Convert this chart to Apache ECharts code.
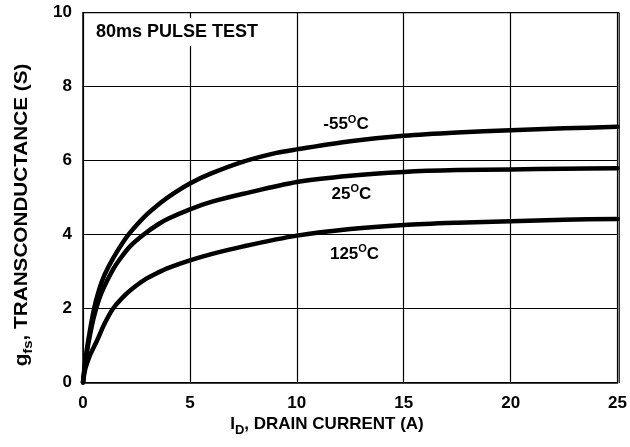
<!DOCTYPE html>
<html>
<head>
<meta charset="utf-8">
<script src="https://cdn.jsdelivr.net/npm/echarts@6/dist/echarts.min.js"></script>
<style>html,body{margin:0;padding:0;background:#fff;}#chart{width:630px;height:447px;}</style>
</head>
<body>
<div id="chart"></div>
<script>
// Drain current (A) vs transconductance (S)
var curveM55 = [[0,0],[0.1,0.55],[0.25,1.15],[0.5,1.95],[0.75,2.5],[1,2.9],[1.4,3.35],[2,3.9],[2.5,4.25],[3,4.55],[3.5,4.8],[4,5.02],[5,5.38],[6,5.65],[7.5,5.97],[9,6.2],[10,6.3],[12.5,6.52],[15,6.67],[17.5,6.76],[20,6.82],[22.5,6.87],[25,6.91]];
var curve25 = [[0,0],[0.1,0.5],[0.25,1.05],[0.5,1.75],[0.75,2.25],[1,2.6],[1.4,3.05],[1.72,3.33],[2.2,3.68],[2.84,4.0],[3.5,4.27],[4,4.43],[5,4.68],[6,4.88],[7.5,5.1],[10,5.42],[12.5,5.59],[15,5.69],[17.5,5.74],[20,5.76],[22.5,5.78],[25,5.79]];
var curve125 = [[0,0],[0.1,0.35],[0.3,0.7],[0.63,1.1],[1,1.58],[1.41,2.0],[2,2.38],[2.5,2.62],[3,2.82],[3.5,2.97],[4,3.1],[5,3.3],[6,3.47],[7.5,3.68],[10,3.97],[12.5,4.15],[15,4.26],[17.5,4.32],[20,4.36],[22.5,4.4],[25,4.42]];
var seriesNames = ['-55', '25', '125'];
var xTicks = [0, 5, 10, 15, 20, 25];
var yTicks = [0, 2, 4, 6, 8, 10];

var FONT = "'Liberation Sans', Arial, sans-serif";
var chart = echarts.init(document.getElementById('chart'), null, {renderer: 'canvas'});

function curveSeries(name, data, coord) {
  return {
    name: name, type: 'line', data: data, showSymbol: false, symbol: 'none',
    smooth: 0.3,
    lineStyle: {color: '#000', width: 4.5, cap: 'round', join: 'round'},
    z: 3,
    markPoint: {
      symbol: 'circle', symbolSize: 0, silent: true,
      data: [{coord: coord, value: name}],
      label: {
        show: true, position: 'inside',
        formatter: '{n|' + name + '}{s|O}{n|C}',
        rich: {
          n: {fontFamily: FONT, fontWeight: 'bold', fontSize: 17, color: '#000', verticalAlign: 'bottom'},
          s: {fontFamily: FONT, fontWeight: 'bold', fontSize: 11, color: '#000', verticalAlign: 'bottom', padding: [0, 0, 8, 0]}
        }
      }
    }
  };
}

var option = {
  backgroundColor: '#fff',
  animation: false,
  title: {
    text: '80ms PULSE TEST', left: 91, top: 18,
    padding: [5, 5, 5, 5], backgroundColor: '#fff',
    textStyle: {fontFamily: FONT, fontWeight: 'bold', fontSize: 18, color: '#000'}
  },
  grid: {left: 83, right: 11, top: 12.5, bottom: 64.5, show: false},
  xAxis: {
    type: 'value', min: xTicks[0], max: xTicks[xTicks.length - 1], interval: 5,
    axisLine: {show: true, lineStyle: {color: '#000', width: 1.5}},
    axisTick: {show: false},
    splitLine: {show: true, lineStyle: {color: '#000', width: 1.2}},
    axisLabel: {margin: 12, fontFamily: FONT, fontWeight: 'bold', fontSize: 17, color: '#000'}
  },
  yAxis: {
    type: 'value', min: yTicks[0], max: yTicks[yTicks.length - 1], interval: 2,
    axisLine: {show: true, lineStyle: {color: '#000', width: 1.5}},
    axisTick: {show: false},
    splitLine: {show: true, lineStyle: {color: '#000', width: 1.2}},
    axisLabel: {margin: 11, fontFamily: FONT, fontWeight: 'bold', fontSize: 17, color: '#000'}
  },
  graphic: [
    {type: 'rect', silent: true, z: 1, shape: {x: 618.5, y: 12.5, width: 1.5, height: 370.5}, style: {fill: '#333'}},
    {type: 'rect', silent: true, z: 1, shape: {x: 83, y: 12, width: 536, height: 1.2}, style: {fill: '#000'}},
    {
      type: 'text', x: 327, y: 426, z: 10,
      style: {
        text: '{n|I}{sub|D}{n|, DRAIN CURRENT (A)}',
        align: 'center', verticalAlign: 'middle',
        rich: {
          n: {fontFamily: FONT, fontWeight: 'bold', fontSize: 17, fill: '#000', verticalAlign: 'bottom', padding: [0, 0, 4, 0]},
          sub: {fontFamily: FONT, fontWeight: 'bold', fontSize: 13, fill: '#000', verticalAlign: 'bottom'}
        }
      }
    },
    {
      type: 'text', x: 24, y: 215, z: 10, rotation: Math.PI / 2, scaleX: 1.15,
      style: {
        text: '{n|g}{sub|fs}{n|, TRANSCONDUCTANCE (S)}',
        align: 'center', verticalAlign: 'middle',
        rich: {
          n: {fontFamily: FONT, fontWeight: 'bold', fontSize: 18, fill: '#000', verticalAlign: 'bottom', padding: [0, 0, 4, 0]},
          sub: {fontFamily: FONT, fontWeight: 'bold', fontSize: 13, fill: '#000', verticalAlign: 'bottom'}
        }
      }
    }
  ],
  series: [
    curveSeries(seriesNames[0], curveM55, [12.3, 7.0]),
    curveSeries(seriesNames[1], curve25, [12.55, 5.12]),
    curveSeries(seriesNames[2], curve125, [12.7, 3.5])
  ]
};
chart.setOption(option);
</script>
</body>
</html>
